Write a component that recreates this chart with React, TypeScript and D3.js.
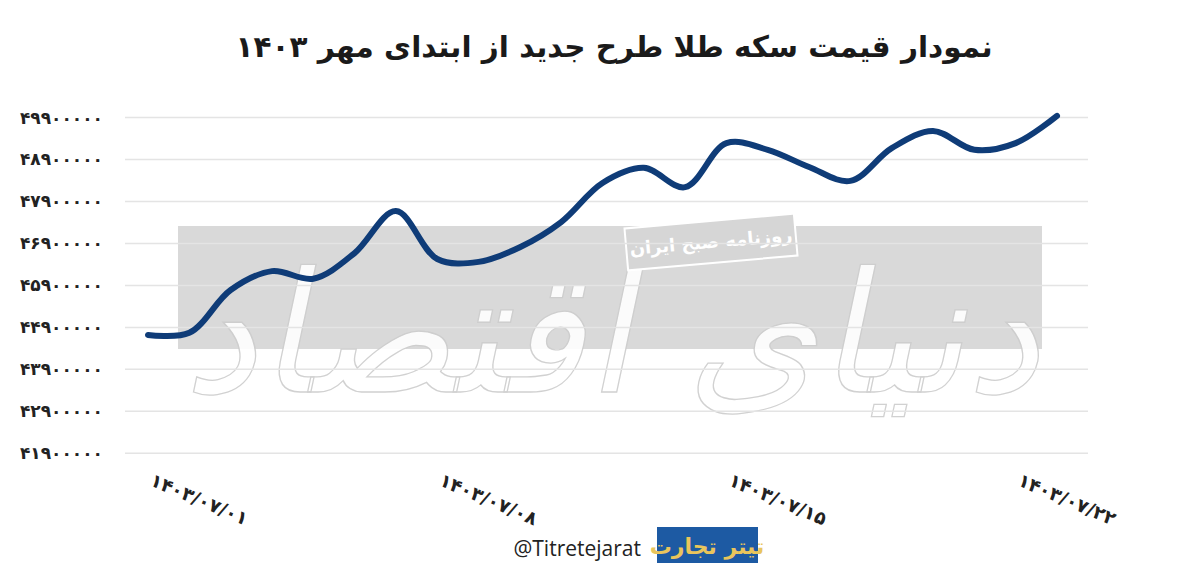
import React from "react";
import * as d3 from "d3";

const titleText = "نمودار قیمت سکه طلا طرح جدید از ابتدای مهر ۱۴۰۳";
const days = [1, 2, 3, 4, 5, 6, 7, 8, 9, 10, 11, 12, 13, 14, 15, 16, 17, 18, 19, 20, 21, 22, 23];
const prices = [
  44720000, 44770000, 45790000, 46240000, 46060000, 46670000, 47670000, 46530000,
  46460000, 46810000, 47410000, 48340000, 48700000, 48240000, 49290000, 49130000,
  48720000, 48390000, 49170000, 49580000, 49130000, 49290000, 49940000,
];
const yTicks = [41900000, 42900000, 43900000, 44900000, 45900000, 46900000, 47900000, 48900000, 49900000];
const xTickDays = [1, 8, 15, 22];
const xTickLabels = ["1403/07/01", "1403/07/08", "1403/07/15", "1403/07/22"];
const handle = "@Titretejarat";
const logoText = "تیتر تجارت";
const watermarkText = "دنیای اقتصاد";
const watermarkSub = "روزنامه صبح ایران";

const fa = (s: string) => s.replace(/\d/g, (d) => "۰۱۲۳۴۵۶۷۸۹"[+d]);

export default function App() {
  const W = 1200;
  const H = 569;
  const x = d3.scaleLinear().domain([1, 23]).range([148, 1057]);
  const y = d3.scaleLinear().domain([41900000, 49900000]).range([453.3, 117.5]);
  const line = d3
    .line<number>()
    .x((_, i) => x(days[i]))
    .y((v) => y(v))
    .curve(d3.curveCatmullRom.alpha(0.5));
  const font = "'DejaVu Sans', sans-serif";

  return (
    <svg
      width={W}
      height={H}
      viewBox={`0 0 ${W} ${H}`}
      style={{ position: "absolute", left: 0, top: 0, background: "#fff" }}
    >
      <rect x={0} y={0} width={W} height={H} fill="#fff" />
      {/* title */}
      <text
        x={614}
        y={57}
        textAnchor="middle"
        direction="rtl"
        fontFamily={font}
        fontWeight="bold"
        fontSize={29.5}
        fill="#1a1a1a"
      >
        {titleText}
      </text>

      {/* watermark */}
      <rect x={178} y={226} width={864} height={123} fill="#d9d9d9" />
      <g transform="translate(612,392) skewX(-12)">
        <text
          x={0}
          y={0}
          textAnchor="middle"
          direction="rtl"
          fontFamily={font}
          fontSize={168}
          fill="#fff"
          stroke="#cdcdcd"
          strokeWidth={1.3}
          opacity={0.9}
        >
          {watermarkText}
        </text>
      </g>
      <g transform="translate(711,242) rotate(-5)">
        <rect x={-85} y={-21} width={170} height={42} fill="#d6d6d6" stroke="#fff" strokeWidth={2} />
        <text
          x={0}
          y={6}
          textAnchor="middle"
          direction="rtl"
          fontFamily={font}
          fontWeight="bold"
          fontSize={18}
          fill="#fff"
        >
          {watermarkSub}
        </text>
      </g>

      {/* gridlines */}
      {yTicks.map((t) => (
        <line
          key={t}
          x1={125}
          x2={1088}
          y1={y(t)}
          y2={y(t)}
          stroke="#e4e4e4"
          strokeWidth={1.5}
        />
      ))}

      {/* y labels */}
      {yTicks.map((t) => (
        <text
          key={"l" + t}
          x={103}
          y={y(t) + 6}
          textAnchor="end"
          fontFamily={font}
          fontWeight="bold"
          fontSize={17}
          fill="#222"
        >
          {fa(String(t))}
        </text>
      ))}

      {/* x labels */}
      {xTickDays.map((d, i) => (
        <text
          key={d}
          transform={`translate(${x(d) + 1},${485}) rotate(23)`}
          fontFamily={font}
          fontWeight="bold"
          fontSize={18.5}
          fill="#222"
        >
          {fa(xTickLabels[i])}
        </text>
      ))}

      {/* line */}
      <path
        d={line(prices) || ""}
        fill="none"
        stroke="#0f3c78"
        strokeWidth={6}
        strokeLinecap="round"
        strokeLinejoin="round"
      />

      {/* footer */}
      <text
        x={641}
        y={556}
        textAnchor="end"
        fontFamily="'Open Sans', sans-serif"
        fontSize={21}
        fill="#222"
      >
        {handle}
      </text>
      <rect x={657} y={527} width={101} height={36} fill="#1d5aa3" />
      <text
        x={707}
        y={554}
        textAnchor="middle"
        direction="rtl"
        fontFamily={font}
        fontWeight="bold"
        fontSize={22}
        fill="#e9c55c"
      >
        {logoText}
      </text>
    </svg>
  );
}
